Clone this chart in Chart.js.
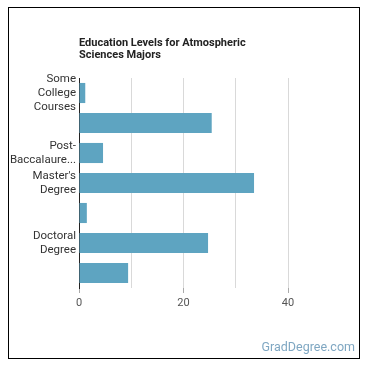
<!DOCTYPE html>
<html>
<head>
<meta charset="utf-8">
<script src="https://cdn.jsdelivr.net/npm/chart.js@4/dist/chart.umd.min.js"></script>
<style>
  html, body { margin: 0; padding: 0; background: #fff; }
  #wrap { position: relative; width: 370px; height: 370px; }
  #frame { position: absolute; left: 8px; top: 7px; width: 352px; height: 352px; border: 1.5px solid #000; box-sizing: border-box; pointer-events: none; }
  #wm { position: absolute; right: 15px; top: 339px; font-family: Roboto, sans-serif; font-size: 12.5px; color: #7fa7c2; }
  canvas { position: absolute; left: 0; top: 0; }
</style>
</head>
<body>
<div id="wrap">
  <canvas id="c" width="370" height="370"></canvas>
  <div id="frame"></div>
  <div id="wm">GradDegree.com</div>
</div>
<script>
const titleLines = ["Education Levels for Atmospheric", "Sciences Majors"];
const categories = [["Some", "College", "Courses"], "", ["Post-", "Baccalaure..."], ["Master's", "Degree"], "", ["Doctoral", "Degree"], ""];
const values = [1.2, 25.4, 4.6, 33.5, 1.5, 24.7, 9.4];
const xTicks = [0, 10, 20, 30, 40];
const xLabelled = [0, 20, 40];

const titlePlugin = {
  id: 'customTitle',
  afterDraw(chart) {
    const ctx = chart.ctx;
    ctx.save();
    ctx.font = 'bold 11px Roboto, sans-serif';
    ctx.fillStyle = '#222';
    ctx.textBaseline = 'middle';
    ctx.textAlign = 'left';
    titleLines.forEach((t, i) => ctx.fillText(t, chart.chartArea.left, 43 + i * 12.5));
    ctx.restore();
  }
};

new Chart(document.getElementById('c'), {
  type: 'bar',
  data: {
    labels: categories,
    datasets: [{
      data: values,
      backgroundColor: '#5ea4c1',
      borderWidth: 0,
      barPercentage: 0.67,
      categoryPercentage: 1.0
    }]
  },
  options: {
    indexAxis: 'y',
    responsive: false,
    animation: false,
    layout: { padding: { top: 78, right: 82, bottom: 60, left: 0 } },
    plugins: { legend: { display: false }, title: { display: false }, tooltip: { enabled: false } },
    scales: {
      x: {
        min: 0, max: 40,
        afterBuildTicks(scale) { scale.ticks = xTicks.map(v => ({ value: v })); },
        afterFit(scale) { scale.height = 22; },
        ticks: {
          padding: 4,
          color: '#555',
          font: { family: 'Roboto, sans-serif', size: 11 },
          callback: (v) => xLabelled.includes(v) ? String(v) : ''
        },
        grid: {
          color: '#d9d9d9',
          tickLength: 5,
          tickColor: (c) => xLabelled.includes(c.tick && c.tick.value) ? '#aaa' : 'rgba(0,0,0,0)'
        },
        border: { display: false }
      },
      y: {
        afterFit(scale) { scale.width = 79; },
        ticks: {
          padding: 3,
          color: '#333',
          font: { family: 'Roboto, sans-serif', size: 11.5, lineHeight: 1.22 },
          autoSkip: false
        },
        grid: { display: false, drawTicks: false },
        border: { display: true, color: '#222', width: 1 }
      }
    }
  },
  plugins: [titlePlugin]
});
</script>
</body>
</html>
